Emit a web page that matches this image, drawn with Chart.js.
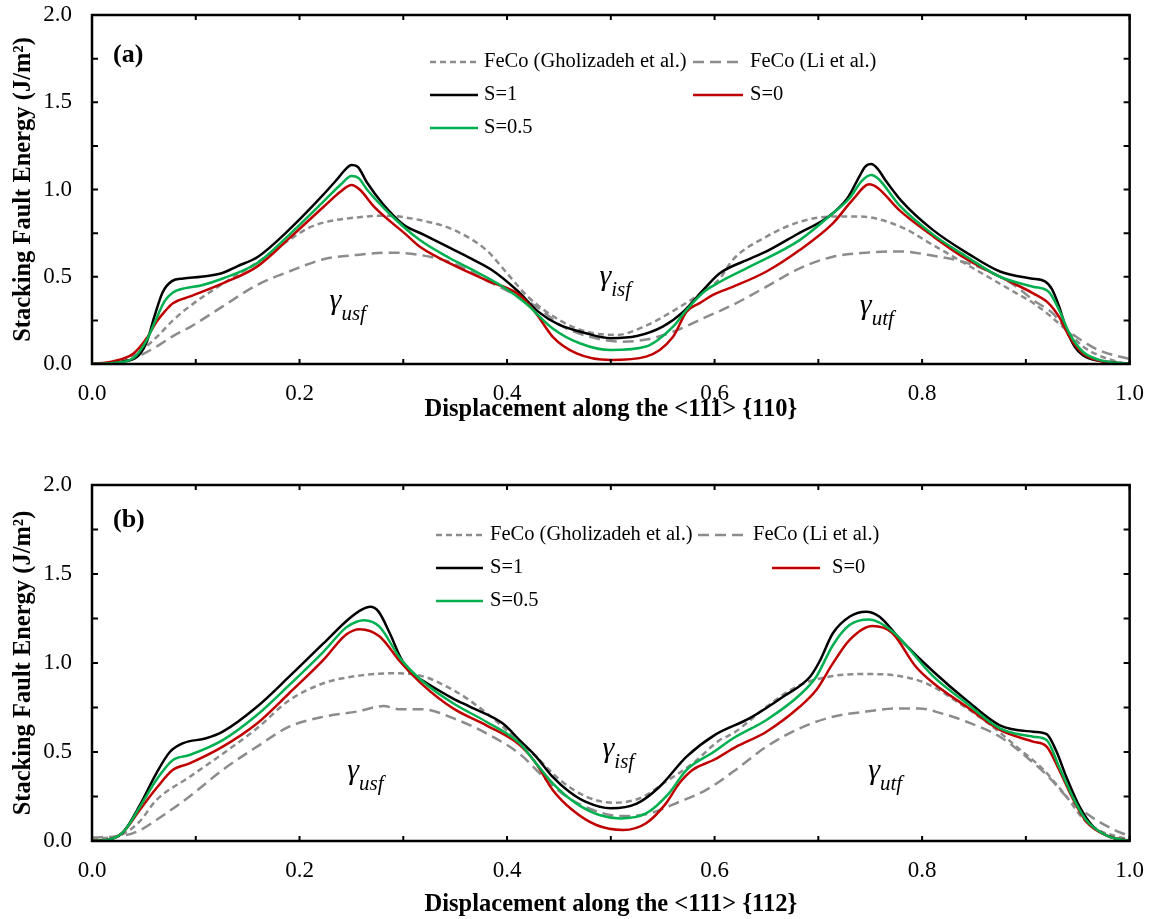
<!DOCTYPE html>
<html>
<head>
<meta charset="utf-8">
<title>Stacking fault energy</title>
<script src="https://cdn.jsdelivr.net/npm/chart.js@4.4.1/dist/chart.umd.min.js"></script>
<style>
  html, body { margin: 0; padding: 0; background: #fff; }
  canvas { position: absolute; left: 0; }
  #chartA { top: 0; }
  #chartB { top: 470px; }
</style>
</head>
<body>
<canvas id="chartA" width="1160" height="440"></canvas>
<canvas id="chartB" width="1160" height="449"></canvas>
<script>
const FONT = "'Liberation Serif', 'Times New Roman', serif";

const seriesNames = ['FeCo (Gholizadeh et al.)', 'FeCo (Li et al.)', 'S=1', 'S=0', 'S=0.5'];

// (a) <111>{110} : [displacement, energy J/m2]
const a_gholizadeh = [[0,0],[0.03,0.02],[0.05,0.09],[0.065,0.17],[0.078,0.25],[0.094,0.33],[0.126,0.46],[0.159,0.58],[0.19,0.71],[0.207,0.775],[0.223,0.81],[0.255,0.84],[0.281,0.85],[0.32,0.82],[0.348,0.77],[0.38,0.653],[0.4,0.52],[0.42,0.386],[0.451,0.25],[0.477,0.185],[0.505,0.166],[0.534,0.22],[0.556,0.29],[0.582,0.386],[0.605,0.49],[0.618,0.6],[0.65,0.73],[0.682,0.815],[0.714,0.845],[0.74,0.845],[0.778,0.79],[0.811,0.68],[0.843,0.57],[0.875,0.46],[0.891,0.405],[0.907,0.35],[0.939,0.195],[0.955,0.1],[0.97,0.05],[0.99,0.01],[1,0]];
const a_li = [[0,0],[0.03,0.01],[0.05,0.06],[0.065,0.11],[0.078,0.16],[0.094,0.21],[0.126,0.33],[0.159,0.453],[0.19,0.53],[0.223,0.6],[0.255,0.625],[0.288,0.638],[0.316,0.625],[0.348,0.577],[0.38,0.48],[0.402,0.414],[0.428,0.33],[0.454,0.214],[0.48,0.156],[0.509,0.128],[0.534,0.14],[0.56,0.185],[0.589,0.262],[0.618,0.34],[0.65,0.443],[0.682,0.548],[0.714,0.615],[0.746,0.638],[0.778,0.645],[0.811,0.62],[0.843,0.58],[0.875,0.5],[0.891,0.443],[0.907,0.367],[0.926,0.29],[0.939,0.2],[0.955,0.13],[0.97,0.08],[0.992,0.04],[1,0.03]];
const a_s1 = [[0,0],[0.015,0.005],[0.03,0.015],[0.045,0.05],[0.053,0.13],[0.06,0.27],[0.068,0.41],[0.077,0.475],[0.088,0.49],[0.105,0.5],[0.125,0.52],[0.14,0.56],[0.16,0.615],[0.19,0.77],[0.215,0.92],[0.235,1.05],[0.245,1.12],[0.25,1.14],[0.256,1.13],[0.265,1.04],[0.28,0.92],[0.3,0.8],[0.32,0.74],[0.345,0.665],[0.365,0.605],[0.385,0.54],[0.41,0.42],[0.43,0.3],[0.45,0.225],[0.475,0.178],[0.5,0.148],[0.525,0.16],[0.55,0.214],[0.57,0.3],[0.59,0.43],[0.605,0.52],[0.635,0.605],[0.65,0.645],[0.68,0.745],[0.71,0.845],[0.728,0.95],[0.74,1.08],[0.745,1.13],[0.751,1.146],[0.757,1.12],[0.765,1.05],[0.78,0.935],[0.81,0.77],[0.845,0.63],[0.875,0.53],[0.905,0.49],[0.918,0.475],[0.925,0.43],[0.932,0.33],[0.939,0.2],[0.947,0.1],[0.955,0.05],[0.965,0.025],[0.985,0.008],[1,0]];
const a_s0 = [[0,0],[0.02,0.015],[0.04,0.06],[0.053,0.15],[0.062,0.24],[0.07,0.3],[0.078,0.348],[0.094,0.386],[0.126,0.462],[0.159,0.558],[0.19,0.72],[0.223,0.9],[0.24,0.99],[0.25,1.026],[0.258,1.0],[0.272,0.9],[0.303,0.74],[0.316,0.672],[0.348,0.568],[0.38,0.48],[0.412,0.395],[0.428,0.29],[0.444,0.156],[0.467,0.061],[0.5,0.023],[0.534,0.042],[0.56,0.156],[0.573,0.3],[0.586,0.35],[0.6,0.4],[0.618,0.443],[0.65,0.53],[0.682,0.653],[0.714,0.806],[0.733,0.94],[0.749,1.03],[0.757,1.01],[0.778,0.882],[0.811,0.73],[0.843,0.6],[0.875,0.5],[0.907,0.405],[0.922,0.348],[0.932,0.27],[0.942,0.156],[0.955,0.06],[0.97,0.02],[1,0]];
const a_s05 = [[0,0],[0.02,0.006],[0.04,0.035],[0.053,0.14],[0.062,0.26],[0.07,0.36],[0.078,0.41],[0.09,0.435],[0.105,0.45],[0.126,0.49],[0.159,0.577],[0.19,0.74],[0.223,0.93],[0.24,1.03],[0.25,1.077],[0.257,1.065],[0.265,1.0],[0.288,0.854],[0.316,0.71],[0.345,0.606],[0.364,0.548],[0.396,0.443],[0.418,0.348],[0.444,0.204],[0.47,0.119],[0.5,0.08],[0.534,0.1],[0.56,0.214],[0.573,0.31],[0.589,0.41],[0.605,0.47],[0.634,0.558],[0.682,0.71],[0.714,0.864],[0.73,0.95],[0.742,1.05],[0.751,1.083],[0.758,1.06],[0.778,0.91],[0.811,0.74],[0.843,0.615],[0.875,0.5],[0.907,0.443],[0.922,0.414],[0.932,0.31],[0.942,0.176],[0.955,0.07],[0.97,0.025],[1,0]];

// (b) <111>{112}
const b_gholizadeh = [[0,0.01],[0.03,0.04],[0.046,0.11],[0.062,0.23],[0.094,0.36],[0.126,0.49],[0.159,0.633],[0.19,0.79],[0.223,0.886],[0.255,0.927],[0.287,0.942],[0.319,0.925],[0.348,0.848],[0.364,0.79],[0.396,0.642],[0.428,0.474],[0.451,0.343],[0.476,0.25],[0.502,0.215],[0.528,0.24],[0.553,0.333],[0.579,0.436],[0.605,0.567],[0.618,0.605],[0.65,0.754],[0.682,0.876],[0.714,0.927],[0.746,0.938],[0.778,0.927],[0.804,0.886],[0.836,0.774],[0.868,0.642],[0.891,0.53],[0.917,0.4],[0.939,0.25],[0.955,0.127],[0.97,0.062],[0.992,0.02],[1,0.01]];
const b_li = [[0,0.02],[0.03,0.03],[0.046,0.06],[0.062,0.118],[0.094,0.25],[0.126,0.4],[0.159,0.53],[0.19,0.642],[0.223,0.698],[0.255,0.727],[0.281,0.758],[0.297,0.74],[0.319,0.74],[0.348,0.69],[0.38,0.605],[0.412,0.49],[0.438,0.343],[0.457,0.25],[0.483,0.174],[0.509,0.14],[0.534,0.15],[0.566,0.22],[0.592,0.287],[0.618,0.39],[0.65,0.53],[0.682,0.633],[0.714,0.698],[0.746,0.727],[0.778,0.745],[0.797,0.745],[0.817,0.72],[0.843,0.67],[0.875,0.586],[0.907,0.44],[0.922,0.36],[0.939,0.25],[0.955,0.17],[0.97,0.11],[0.992,0.045],[1,0.03]];
const b_s1 = [[0,0],[0.015,0.006],[0.03,0.05],[0.046,0.2],[0.062,0.38],[0.075,0.5],[0.088,0.55],[0.11,0.577],[0.126,0.614],[0.159,0.754],[0.19,0.923],[0.223,1.11],[0.248,1.25],[0.26,1.3],[0.268,1.316],[0.276,1.29],[0.287,1.167],[0.297,1.035],[0.306,0.951],[0.319,0.9],[0.348,0.8],[0.364,0.755],[0.396,0.66],[0.412,0.567],[0.428,0.474],[0.444,0.36],[0.46,0.277],[0.476,0.22],[0.5,0.184],[0.525,0.21],[0.547,0.305],[0.573,0.474],[0.6,0.595],[0.634,0.69],[0.666,0.81],[0.692,0.923],[0.701,1.007],[0.714,1.167],[0.73,1.26],[0.746,1.288],[0.759,1.26],[0.778,1.139],[0.811,0.951],[0.843,0.79],[0.875,0.65],[0.907,0.614],[0.92,0.6],[0.929,0.51],[0.939,0.36],[0.952,0.19],[0.965,0.08],[0.981,0.024],[1,0]];
const b_s0 = [[0,0],[0.015,0.006],[0.03,0.05],[0.046,0.174],[0.062,0.296],[0.078,0.4],[0.094,0.436],[0.126,0.53],[0.159,0.66],[0.19,0.83],[0.223,1.017],[0.245,1.16],[0.258,1.19],[0.277,1.15],[0.297,1.007],[0.319,0.876],[0.348,0.745],[0.38,0.65],[0.412,0.54],[0.428,0.436],[0.444,0.287],[0.463,0.174],[0.486,0.09],[0.512,0.062],[0.534,0.1],[0.553,0.21],[0.566,0.324],[0.579,0.4],[0.599,0.455],[0.621,0.53],[0.65,0.614],[0.682,0.754],[0.698,0.848],[0.714,0.998],[0.73,1.129],[0.752,1.208],[0.771,1.17],[0.794,0.979],[0.811,0.886],[0.843,0.754],[0.875,0.624],[0.907,0.558],[0.92,0.53],[0.932,0.4],[0.945,0.24],[0.958,0.11],[0.978,0.03],[1,0]];
const b_s05 = [[0,0],[0.015,0.006],[0.03,0.05],[0.046,0.19],[0.062,0.343],[0.078,0.455],[0.094,0.483],[0.126,0.567],[0.159,0.708],[0.19,0.876],[0.223,1.063],[0.245,1.2],[0.255,1.232],[0.262,1.24],[0.277,1.204],[0.297,1.026],[0.319,0.895],[0.348,0.774],[0.38,0.67],[0.412,0.55],[0.428,0.436],[0.444,0.324],[0.467,0.21],[0.489,0.146],[0.509,0.127],[0.534,0.155],[0.556,0.268],[0.573,0.4],[0.599,0.5],[0.618,0.577],[0.65,0.68],[0.682,0.82],[0.698,0.923],[0.714,1.1],[0.73,1.213],[0.749,1.245],[0.771,1.18],[0.811,0.923],[0.843,0.774],[0.875,0.633],[0.907,0.586],[0.92,0.567],[0.932,0.417],[0.945,0.25],[0.958,0.118],[0.978,0.03],[1,0]];

// line styles in dataset order: gholizadeh, li, S=1, S=0, S=0.5
const lineStyles = [
  { color: '#8c8c8c', dash: [6, 4], order: 5 },
  { color: '#8c8c8c', dash: [11, 6], order: 4 },
  { color: '#000000', dash: [], order: 3 },
  { color: '#c00000', dash: [], order: 2 },
  { color: '#00b050', dash: [], order: 1 }
];

// frame, inward ticks, in-plot legend, panel tag and gamma labels
const panelDecor = {
  id: 'panelDecor',
  afterDatasetsDraw(chart, args, opts) {
    const { ctx, chartArea: a, scales: { x, y } } = chart;
    ctx.save();
    ctx.strokeStyle = '#000';
    ctx.lineWidth = 2;
    ctx.beginPath();
    x.ticks.forEach(t => {
      const px = x.getPixelForValue(t.value);
      ctx.moveTo(px, a.bottom); ctx.lineTo(px, a.bottom - 5);
      ctx.moveTo(px, a.top); ctx.lineTo(px, a.top + 5);
    });
    y.ticks.forEach(t => {
      const py = y.getPixelForValue(t.value);
      ctx.moveTo(a.left, py); ctx.lineTo(a.left + 6, py);
      ctx.moveTo(a.right, py); ctx.lineTo(a.right - 6, py);
    });
    ctx.stroke();
    ctx.lineWidth = 2.5;
    ctx.strokeRect(a.left, a.top, a.right - a.left, a.bottom - a.top);

    ctx.fillStyle = '#000';
    ctx.textBaseline = 'middle';
    ctx.font = `20.5px ${FONT}`;
    opts.legend.forEach(item => {
      const ds = chart.data.datasets[item.ds];
      ctx.save();
      ctx.strokeStyle = ds.borderColor;
      ctx.lineWidth = ds.borderWidth;
      ctx.setLineDash(ds.borderDash);
      ctx.beginPath();
      ctx.moveTo(item.x0, item.y);
      ctx.lineTo(item.x1, item.y);
      ctx.stroke();
      ctx.restore();
      ctx.fillText(ds.label, item.tx, item.y);
    });

    ctx.textBaseline = 'alphabetic';
    ctx.font = `bold 26px ${FONT}`;
    ctx.fillText(opts.tag.text, opts.tag.x, opts.tag.y);

    opts.gammas.forEach(g => {
      const px = x.getPixelForValue(g.x);
      const py = y.getPixelForValue(g.y);
      ctx.font = `italic 30px ${FONT}`;
      ctx.fillText('\u03B3', px, py);
      const w = ctx.measureText('\u03B3').width;
      ctx.font = `italic 21px ${FONT}`;
      ctx.fillText(g.sub, px + w, py + 11);
    });
    ctx.restore();
  }
};

function makePanel(canvasId, series, xTitle, plotBottom, titlePad, decor) {
  const canvas = document.getElementById(canvasId);
  const datasets = series.map((data, i) => ({
    label: seriesNames[i],
    data: data,
    borderColor: lineStyles[i].color,
    borderDash: lineStyles[i].dash,
    borderWidth: 2.5,
    order: lineStyles[i].order,
    pointRadius: 0,
    fill: false,
    cubicInterpolationMode: 'monotone'
  }));

  return new Chart(canvas.getContext('2d'), {
    type: 'line',
    data: { datasets },
    options: {
      responsive: false,
      animation: false,
      layout: { padding: { top: 15, right: 30, left: 0, bottom: 0 } },
      plugins: {
        legend: { display: false },
        tooltip: { enabled: false },
        panelDecor: decor
      },
      scales: {
        x: {
          type: 'linear',
          min: 0,
          max: 1,
          grid: { display: false, drawTicks: false },
          border: { display: false },
          ticks: {
            stepSize: 0.1,
            autoSkip: false,
            maxRotation: 0,
            padding: 16,
            color: '#000',
            font: { family: FONT, size: 23 },
            callback: v => (Math.round(v * 10) % 2 === 0 ? v.toFixed(1) : '')
          },
          title: {
            display: true,
            text: xTitle,
            color: '#000',
            font: { family: FONT, size: 24.5, weight: 'bold' },
            padding: { top: 0, bottom: titlePad }
          },
          afterFit: s => { s.height = canvas.height - plotBottom; }
        },
        y: {
          type: 'linear',
          min: 0,
          max: 2,
          grid: { display: false, drawTicks: false },
          border: { display: false },
          ticks: {
            stepSize: 0.25,
            autoSkip: false,
            padding: 20,
            color: '#000',
            font: { family: FONT, size: 23 },
            callback: v => (Math.abs(v * 2 - Math.round(v * 2)) < 1e-6 ? v.toFixed(1) : '')
          },
          title: {
            display: true,
            text: 'Stacking Fault Energy (J/m\u00B2)',
            color: '#000',
            font: { family: FONT, size: 24.5, weight: 'bold' },
            padding: { top: 9, bottom: 0 }
          },
          afterFit: s => {
            s.width = 92;
            s.paddingTop = 0;
            s.paddingBottom = 0;
          }
        }
      }
    },
    plugins: [panelDecor]
  });
}

makePanel('chartA', [a_gholizadeh, a_li, a_s1, a_s0, a_s05],
  'Displacement along the <111> {110}', 364, 16, {
    legend: [
      { ds: 0, x0: 430, x1: 478, tx: 484, y: 62 },
      { ds: 1, x0: 693, x1: 743, tx: 750, y: 62 },
      { ds: 2, x0: 430, x1: 478, tx: 484, y: 95 },
      { ds: 3, x0: 693, x1: 743, tx: 750, y: 95 },
      { ds: 4, x0: 430, x1: 478, tx: 484, y: 128 }
    ],
    tag: { text: '(a)', x: 113, y: 62 },
    gammas: [
      { x: 0.229, y: 0.315, sub: 'usf' },
      { x: 0.489, y: 0.453, sub: 'isf' },
      { x: 0.740, y: 0.287, sub: 'utf' }
    ]
  });

makePanel('chartB', [b_gholizadeh, b_li, b_s1, b_s0, b_s05],
  'Displacement along the <111> {112}', 371, 0, {
    legend: [
      { ds: 0, x0: 436, x1: 483, tx: 490, y: 65 },
      { ds: 1, x0: 698, x1: 745, tx: 753, y: 65 },
      { ds: 2, x0: 436, x1: 483, tx: 490, y: 98 },
      { ds: 3, x0: 772, x1: 820, tx: 832, y: 98 },
      { ds: 4, x0: 436, x1: 483, tx: 490, y: 131 }
    ],
    tag: { text: '(b)', x: 113, y: 57 },
    gammas: [
      { x: 0.246, y: 0.348, sub: 'usf' },
      { x: 0.492, y: 0.472, sub: 'isf' },
      { x: 0.748, y: 0.348, sub: 'utf' }
    ]
  });
</script>
</body>
</html>
